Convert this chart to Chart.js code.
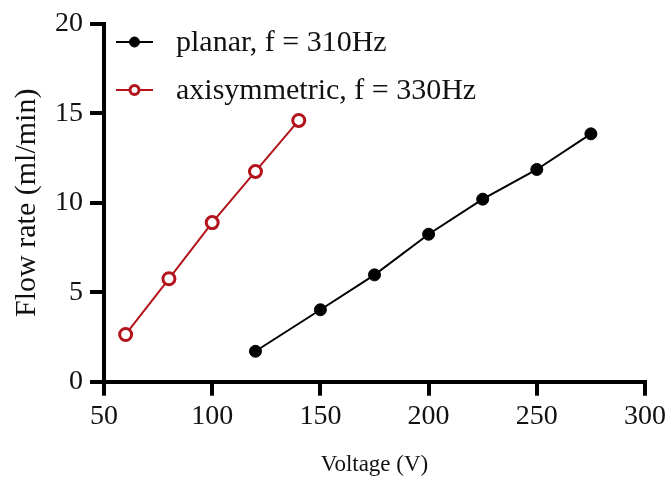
<!DOCTYPE html>
<html>
<head>
<meta charset="utf-8">
<script src="https://cdn.jsdelivr.net/npm/chart.js@4.4.0/dist/chart.umd.min.js"></script>
<style>
  html, body { margin: 0; padding: 0; background: #fff; }
  #wrap { width: 670px; height: 479px; }
</style>
</head>
<body>
<div id="wrap"><canvas id="flow"></canvas></div>
<script>
// planar actuator, f = 310Hz
const planarVoltage = [120, 150, 175, 200, 225, 250, 275];
const planarFlow = [1.70, 4.02, 5.97, 8.24, 10.2, 11.86, 13.85];

// axisymmetric actuator, f = 330Hz
const axiVoltage = [60, 80, 100, 120, 140];
const axiFlow = [2.64, 5.75, 8.89, 11.75, 14.6];

const seriesNames = ['planar, f = 310Hz', 'axisymmetric, f = 330Hz'];
const xTicks = [50, 100, 150, 200, 250, 300];
const yTicks = [0, 5, 10, 15, 20];

const RED = '#b3141c';
const FONT = '"Liberation Serif", "Times New Roman", serif';

const toPoints = (xs, ys) => xs.map((x, i) => ({ x: x, y: ys[i] }));

// simple legend drawn in the top left corner of the plot
const legendPlugin = {
  id: 'cornerLegend',
  afterDraw(chart) {
    const ctx = chart.ctx;
    ctx.save();
    chart.data.datasets.forEach((ds, i) => {
      const y = 42 + i * 48;
      ctx.strokeStyle = ds.borderColor;
      ctx.lineWidth = 2;
      ctx.beginPath();
      ctx.moveTo(116, y);
      ctx.lineTo(153, y);
      ctx.stroke();
      ctx.beginPath();
      ctx.arc(134.5, y, ds.pointBorderWidth > 1 ? 4.5 : 5, 0, Math.PI * 2);
      ctx.fillStyle = ds.pointBackgroundColor;
      ctx.fill();
      ctx.lineWidth = ds.pointBorderWidth;
      ctx.strokeStyle = ds.pointBorderColor;
      ctx.stroke();
      ctx.fillStyle = '#111';
      ctx.font = '30px ' + FONT;
      ctx.textBaseline = 'middle';
      ctx.textAlign = 'left';
      ctx.fillText(ds.label, 176, y + 1);
    });
    ctx.restore();
  }
};

const axisGrid = {
  display: true,
  drawOnChartArea: false,
  drawTicks: true,
  lineWidth: 4,
  color: '#000',
  tickLength: 14,
  tickWidth: 4,
  tickColor: '#000'
};

new Chart(document.getElementById('flow'), {
  type: 'scatter',
  data: {
    datasets: [
      {
        label: seriesNames[0],
        data: toPoints(planarVoltage, planarFlow),
        showLine: true,
        borderColor: '#000',
        borderWidth: 2,
        pointRadius: 6,
        pointBackgroundColor: '#000',
        pointBorderColor: '#000',
        pointBorderWidth: 1
      },
      {
        label: seriesNames[1],
        data: toPoints(axiVoltage, axiFlow),
        showLine: true,
        borderColor: RED,
        borderWidth: 2,
        pointRadius: 6,
        pointBackgroundColor: '#fff',
        pointBorderColor: RED,
        pointBorderWidth: 3
      }
    ]
  },
  options: {
    responsive: true,
    maintainAspectRatio: false,
    animation: false,
    layout: { padding: { top: 20, right: 24, left: 0, bottom: 0 } },
    plugins: {
      legend: { display: false },
      tooltip: { enabled: false }
    },
    scales: {
      x: {
        type: 'linear',
        min: 50,
        max: 300,
        afterBuildTicks: (s) => { s.ticks = xTicks.map(v => ({ value: v })); },
        afterFit: (s) => { s.height = 97.3; },
        border: { display: true, color: '#000', width: 4 },
        grid: axisGrid,
        ticks: {
          color: '#111',
          font: { family: FONT, size: 28 },
          padding: 4,
          maxRotation: 0
        },
        title: {
          display: true,
          text: 'Voltage (V)',
          color: '#111',
          font: { family: FONT, size: 23 },
          padding: { top: 3, bottom: 0 }
        }
      },
      y: {
        type: 'linear',
        min: 0,
        max: 20,
        afterBuildTicks: (s) => { s.ticks = yTicks.map(v => ({ value: v })); },
        afterFit: (s) => { s.width = 104; },
        border: { display: true, color: '#000', width: 4 },
        grid: axisGrid,
        ticks: {
          color: '#111',
          font: { family: FONT, size: 28 },
          padding: 7
        },
        title: {
          display: true,
          text: 'Flow rate (ml/min)',
          color: '#111',
          font: { family: FONT, size: 30 },
          padding: { top: 9, bottom: 0 }
        }
      }
    }
  },
  plugins: [legendPlugin]
});
</script>
</body>
</html>
